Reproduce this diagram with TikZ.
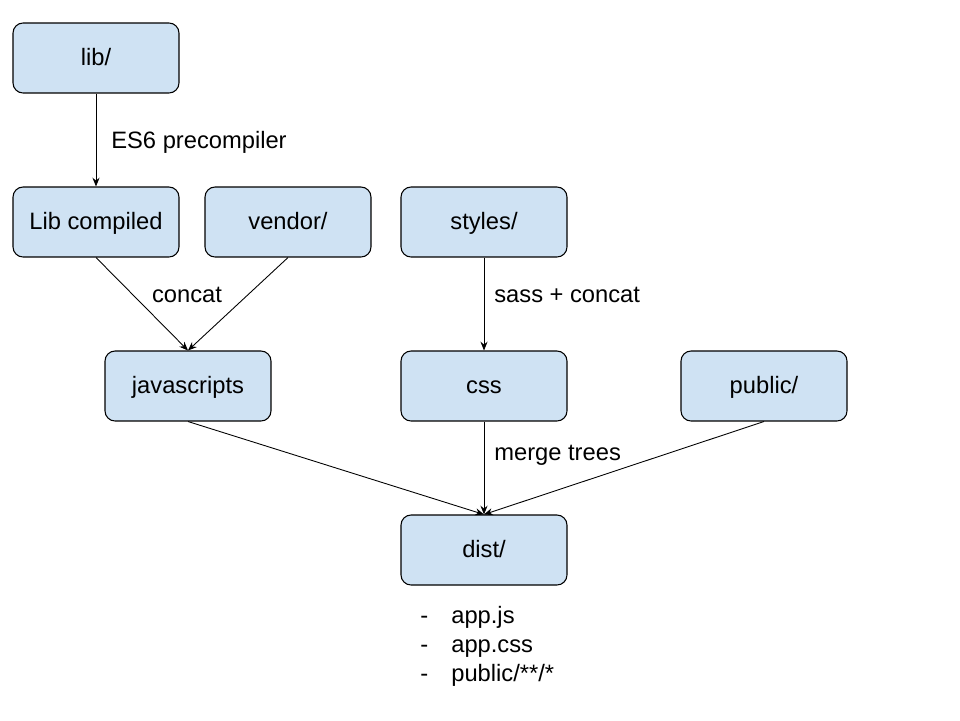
\documentclass[tikz,border=0pt]{standalone}
\usepackage{fontspec}
\setmainfont{Liberation Sans}
\usetikzlibrary{arrows.meta}
\definecolor{boxblue}{HTML}{CFE2F3}
\tikzset{
  dirbox/.style={draw=black, fill=boxblue, rounded corners=0.2cm, line width=0.6pt,
    minimum width=3.32cm, minimum height=1.4cm, inner sep=0pt,
    text height=0.95em, text depth=0.12em},
  flow/.style={-{Stealth[length=5pt,width=4pt]}, line width=0.5pt},
  lbl/.style={inner sep=0pt, anchor=west}
}
\begin{document}
\begin{tikzpicture}[x=0.02cm, y=-0.02cm, font=\fontsize{13.5}{16.5}\selectfont]
  \useasboundingbox (0,0) rectangle (960,720);

  % boxes
  \node [dirbox] (lib) at (96,58) {lib/};
  \node [dirbox] (libc) at (96,222) {Lib compiled};
  \node [dirbox] (vendor) at (288,222) {vendor/};
  \node [dirbox] (styles) at (484,222) {styles/};
  \node [dirbox] (js) at (188,386) {javascripts};
  \node [dirbox] (css) at (484,386) {css};
  \node [dirbox] (public) at (764,386) {public/};
  \node [dirbox] (dist) at (484,550) {dist/};

  % arrows
  \draw [flow] (lib.south) -- (libc.north);
  \draw [flow] (libc.south) -- (js.north);
  \draw [flow] (vendor.south) -- (js.north);
  \draw [flow] (styles.south) -- (css.north);
  \draw [flow] (js.south) -- (dist.north);
  \draw [flow] (css.south) -- (dist.north);
  \draw [flow] (public.south) -- (dist.north);

  % labels
  \node [lbl] (es6) at (111,142) {ES6 precompiler};
  \node [inner sep=0pt] (concat) at (187,295) {concat};
  \node [lbl] (sass) at (494,295) {sass + concat};
  \node [lbl] (merge) at (494,455) {merge trees};

  \node [lbl, align=left] (files) at (420,646)
    {\makebox[0.62cm][l]{-}app.js\\ \makebox[0.62cm][l]{-}app.css\\ \makebox[0.62cm][l]{-}public/**/*};
\end{tikzpicture}
\end{document}
